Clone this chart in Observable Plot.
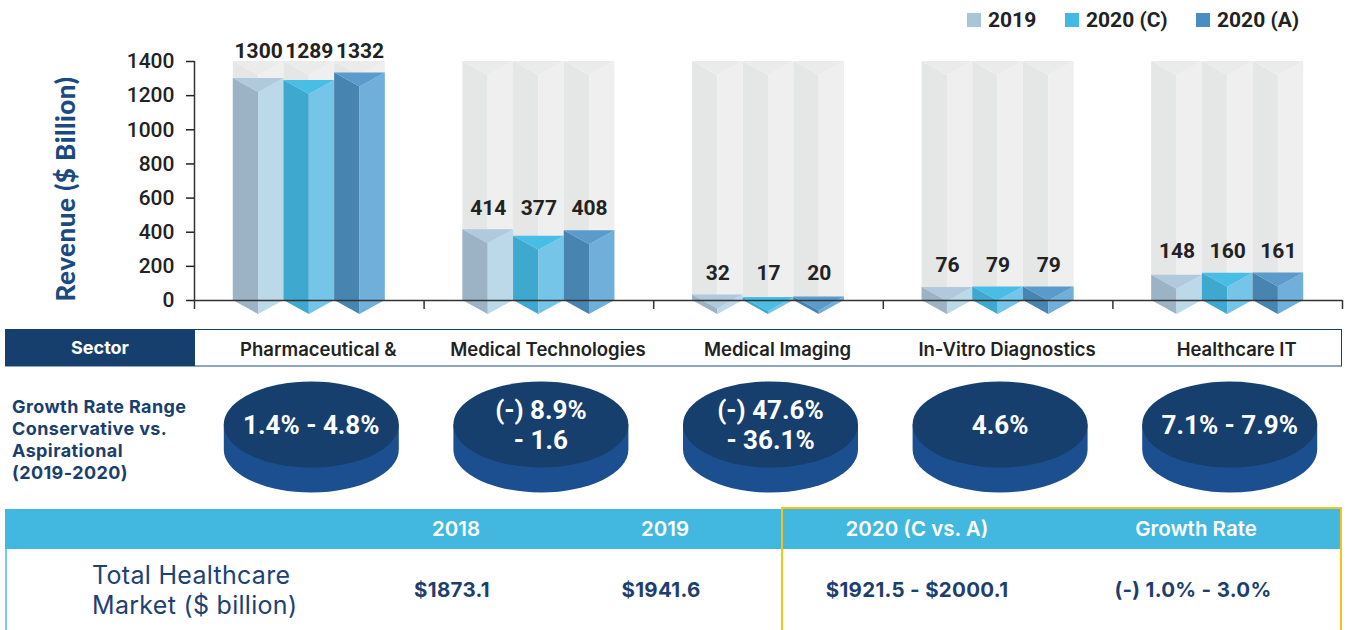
<!DOCTYPE html>
<html><head><meta charset="utf-8">
<script src="https://cdn.jsdelivr.net/npm/d3@7"></script>
<script src="https://cdn.jsdelivr.net/npm/@observablehq/plot@0.6"></script>
<style>
body{margin:0;background:#fff;}
#root{position:relative;width:1348px;height:630px;overflow:hidden;font-family:Inter,"Noto Sans",sans-serif;}
.legend-item{position:absolute;top:8px;display:flex;align-items:center;font-family:Roboto,sans-serif;font-weight:700;font-size:21px;color:#222;}
.legend-item span.sw{display:inline-block;width:14px;height:14px;margin-right:7px;}
.ytitle{position:absolute;left:-75px;top:174px;width:280px;height:30px;line-height:30px;text-align:center;transform:rotate(-90deg);font-family:Lato,sans-serif;font-weight:900;font-size:26px;letter-spacing:0.5px;color:#1b4a80;}
.sector-row{position:absolute;left:5px;top:329px;width:1337px;height:38px;box-sizing:border-box;border-top:1.5px solid #163f6e;border-right:1.5px solid #163f6e;border-bottom:2px solid #8ea6c2;}
.sector-head{position:absolute;left:5px;top:329px;width:190px;height:37px;background:#163f6e;color:#fff;font-weight:700;font-size:18px;display:flex;align-items:center;justify-content:center;}
.growth-label{position:absolute;left:12px;top:396px;font-weight:700;font-size:18px;letter-spacing:0.4px;line-height:22px;color:#1a3f6f;white-space:pre;}
.thead{position:absolute;left:5px;top:509px;width:1335px;height:40px;background:#42b8e0;}
.tbody-border{position:absolute;left:5px;top:549px;width:1.5px;height:81px;background:#7cc9e6;}
.ybox{position:absolute;left:781px;top:507px;width:561px;height:140px;box-sizing:border-box;border:2.5px solid #f7c21a;}
.hcell{position:absolute;top:509px;height:40px;width:300px;text-align:center;line-height:40px;color:#fff;font-weight:600;font-size:20.5px;}
.bcell{position:absolute;top:575px;height:30px;width:300px;text-align:center;line-height:30px;color:#1d3f6e;font-weight:700;font-size:20.5px;letter-spacing:0.3px;}
.blabel{position:absolute;left:92px;top:560px;font-weight:400;font-size:25px;letter-spacing:0.3px;line-height:30px;color:#1d4173;white-space:pre;}
</style></head><body><div id="root"></div>
<script>
// ---------------- data ----------------
const sectors = ["Pharmaceutical &", "Medical Technologies", "Medical Imaging", "In-Vitro Diagnostics", "Healthcare IT"];
const seriesNames = ["2019", "2020 (C)", "2020 (A)"];
const values2019 = [1300, 414, 32, 76, 148];
const values2020C = [1289, 377, 17, 79, 160];
const values2020A = [1332, 408, 20, 79, 161];
const yTicks = [0, 200, 400, 600, 800, 1000, 1200, 1400];
const yTitle = "Revenue ($ Billion)";
const sectorHeader = "Sector";
const growthRowLabel = "Growth Rate Range\nConservative vs.\nAspirational\n(2019-2020)";
const growthLabels = ["1.4% - 4.8%", "(-) 8.9%\n- 1.6", "(-) 47.6%\n- 36.1%", "4.6%", "7.1% - 7.9%"];
const tableHeaders = ["", "2018", "2019", "2020 (C vs. A)", "Growth Rate"];
const tableRow = ["Total Healthcare\nMarket ($ billion)", "$1873.1", "$1941.6", "$1921.5 - $2000.1", "(-) 1.0% - 3.0%"];

// ---------------- styles ----------------
const seriesColors = [
  {left: "#9cb3c6", right: "#bcd9ea", top: "#b0c9dd", swatch: "#a9c6d9"},
  {left: "#3ea8cf", right: "#74c5e8", top: "#48bde6", swatch: "#41b9e4"},
  {left: "#4784b0", right: "#70afd9", top: "#5b9bcb", swatch: "#4a8dc2"}
];
const greyColors = {left: "#e5e6e6", right: "#efefef", top: "#ebebeb"};
const root = document.getElementById("root");

const W = 1348, H1 = 320, ML = 194, MR = 6, MT = 61, MB = 20;
const yMax = yTicks[yTicks.length - 1];
const BAR_W = 0.2207;           // in band units
const CREASE = 14 * yMax / (H1 - MT - MB); // 14px in y units
const allSeries = [values2019, values2020C, values2020A];

function prism(i, s, v, c, key) {
  const L = i + 0.5 + (s - 1.5) * BAR_W, C = L + BAR_W / 2, R = L + BAR_W;
  return [
    {k: key + "L", x: L, y1: 0, y2: v, fill: c.left},
    {k: key + "L", x: C, y1: -CREASE, y2: v - CREASE, fill: c.left},
    {k: key + "R", x: C, y1: -CREASE, y2: v - CREASE, fill: c.right},
    {k: key + "R", x: R, y1: 0, y2: v, fill: c.right},
    {k: key + "T", x: L, y1: v, y2: v, fill: c.top},
    {k: key + "T", x: C, y1: v - CREASE, y2: v, fill: c.top},
    {k: key + "T", x: R, y1: v, y2: v, fill: c.top}
  ];
}

const bars = sectors.flatMap((sector, i) => allSeries.map((vals, s) => ({
  sector, i, s, value: vals[i], groupMax: d3.max(allSeries, a => a[i]),
  cx: i + 0.5 + (s - 1) * BAR_W
})));
const greyFaces = bars.flatMap(b => prism(b.i, b.s, yMax, greyColors, `g${b.i}-${b.s}`));
const barFaces = bars.flatMap(b => prism(b.i, b.s, b.value, seriesColors[b.s], `b${b.i}-${b.s}`));

const chart = Plot.plot({
  width: W, height: H1, marginLeft: ML, marginRight: MR, marginTop: MT, marginBottom: MB,
  x: {domain: [0, sectors.length]},
  y: {domain: [0, yMax]},
  color: {type: "identity"},
  style: {fontFamily: "Roboto, sans-serif", background: "transparent", overflow: "visible"},
  marks: [
    Plot.areaY(greyFaces, {x: "x", y1: "y1", y2: "y2", z: "k", fill: "fill"}),
    Plot.areaY(barFaces, {x: "x", y1: "y1", y2: "y2", z: "k", fill: "fill"}),
    Plot.ruleY([0], {stroke: "#333", strokeWidth: 1.5}),
    Plot.ruleX([0], {stroke: "#333", strokeWidth: 1.5}),
    Plot.axisY({ticks: yTicks, tickSize: 8, tickPadding: 12, tickFormat: d3.format("d"), fontSize: 21, fontWeight: 500, color: "#222", strokeWidth: 1.5, label: null}),
    Plot.axisX({ticks: d3.range(sectors.length + 1), tickSize: 9, tickFormat: () => "", color: "#333", strokeWidth: 1.5, label: null}),
    Plot.text(bars, {x: "cx", y: "groupMax", text: d => String(d.value), dy: -15, lineAnchor: "bottom", fontSize: 21, fontWeight: 700, fill: "#222"})
  ]
});
chart.style.position = "absolute"; chart.style.left = "0px"; chart.style.top = "0px";
root.appendChild(chart);

// legend
const legendLefts = [967, 1065, 1196];
seriesNames.forEach((name, s) => {
  const d = document.createElement("div");
  d.className = "legend-item";
  d.style.left = legendLefts[s] + "px";
  d.innerHTML = `<span class="sw" style="background:${seriesColors[s].swatch}"></span><span>${name}</span>`;
  root.appendChild(d);
});
const yt = document.createElement("div"); yt.className = "ytitle"; yt.textContent = yTitle; root.appendChild(yt);

// sector row + discs
const sr = document.createElement("div"); sr.className = "sector-row"; root.appendChild(sr);
const sh = document.createElement("div"); sh.className = "sector-head"; sh.textContent = sectorHeader; root.appendChild(sh);
const gl = document.createElement("div"); gl.className = "growth-label"; gl.textContent = growthRowLabel; root.appendChild(gl);

const RX = 87.5, RY = 43, DEPTH = 25, K = 0.5523;
const discTop = {draw(ctx) {
  ctx.moveTo(RX, 0);
  ctx.bezierCurveTo(RX, K * RY, K * RX, RY, 0, RY);
  ctx.bezierCurveTo(-K * RX, RY, -RX, K * RY, -RX, 0);
  ctx.bezierCurveTo(-RX, -K * RY, -K * RX, -RY, 0, -RY);
  ctx.bezierCurveTo(K * RX, -RY, RX, -K * RY, RX, 0);
  ctx.closePath();
}};
const discSide = {draw(ctx) {
  ctx.moveTo(-RX, 0);
  ctx.lineTo(-RX, DEPTH);
  ctx.bezierCurveTo(-RX, DEPTH + K * RY, -K * RX, DEPTH + RY, 0, DEPTH + RY);
  ctx.bezierCurveTo(K * RX, DEPTH + RY, RX, DEPTH + K * RY, RX, DEPTH);
  ctx.lineTo(RX, 0);
  ctx.closePath();
}};

const discPlot = Plot.plot({
  width: W, height: 176, marginLeft: ML, marginRight: MR, marginTop: 0, marginBottom: 0,
  x: {domain: [0, sectors.length], axis: null},
  y: {type: "point", domain: ["sector", "growth"], range: [21, 95], padding: 0, axis: null},
  style: {fontFamily: "Inter, sans-serif", background: "transparent", overflow: "visible"},
  marks: [
    Plot.text(sectors, {x: (d, i) => i + 0.5, y: () => "sector", text: d => d, dx: 9, fontSize: 18.5, fontWeight: 600, fill: "#222"}),
    Plot.dot(sectors, {x: (d, i) => i + 0.5, y: () => "growth", dx: 2, symbol: discSide, r: 10, fill: "#1b4f90", stroke: "none"}),
    Plot.dot(sectors, {x: (d, i) => i + 0.5, y: () => "growth", dx: 2, symbol: discTop, r: 10, fill: "#163f6e", stroke: "none"}),
    Plot.text(growthLabels, {x: (d, i) => i + 0.5, y: () => "growth", dx: 2, text: d => d, fontSize: 26, fontWeight: 700, lineHeight: 1.15, fill: "#fff", fontFamily: "Roboto, sans-serif"})
  ]
});
discPlot.style.position = "absolute"; discPlot.style.left = "0px"; discPlot.style.top = "329px";
root.appendChild(discPlot);

// table
const th = document.createElement("div"); th.className = "thead"; root.appendChild(th);
const tb = document.createElement("div"); tb.className = "tbody-border"; root.appendChild(tb);
const headCenters = [0, 456, 665, 917, 1196];
const bodyCenters = [0, 452, 661, 917, 1193];
tableHeaders.forEach((t, j) => {
  if (j === 0) return;
  const d = document.createElement("div"); d.className = "hcell";
  d.style.left = (headCenters[j] - 150) + "px"; d.textContent = t; root.appendChild(d);
});
tableRow.forEach((t, j) => {
  const d = document.createElement("div");
  if (j === 0) { d.className = "blabel"; }
  else { d.className = "bcell"; d.style.left = (bodyCenters[j] - 150) + "px"; }
  d.textContent = t; root.appendChild(d);
});
const yb = document.createElement("div"); yb.className = "ybox"; root.appendChild(yb);
</script>
</body></html>
